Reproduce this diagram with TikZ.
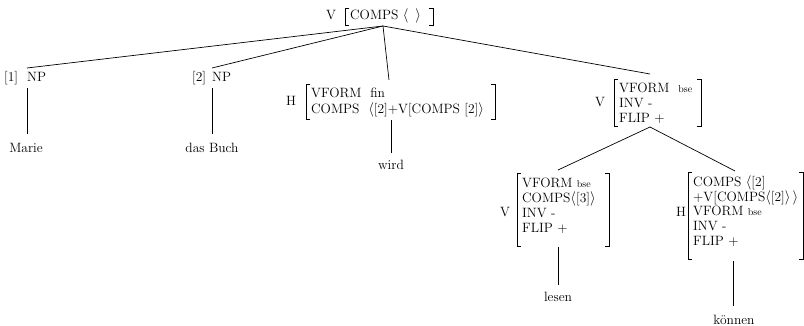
\documentclass[tikz,border=0pt]{standalone}
\begin{document}
\begin{tikzpicture}[x=1pt,y=-1pt,
  txt/.style={inner sep=0pt, anchor=base west, font=\fontsize{13.5}{15}\selectfont},
  leaf/.style={inner sep=0pt, anchor=base, font=\fontsize{13.5}{15}\selectfont},
  edge/.style={line width=0.7pt},
  brk/.style={line width=0.7pt}]
\useasboundingbox (0,0) rectangle (804,326);
\newcommand\sm[1]{{\fontsize{10}{11}\selectfont #1}}
\newcommand\lb[3]{\draw[brk] (#1+4,#2) -| (#1,#3) -- (#1+4,#3);}
\newcommand\rb[3]{\draw[brk] (#1-4,#2) -| (#1,#3) -- (#1-4,#3);}

% root: V [COMPS < > ]
\node[txt] (rootcat) at (326,20) {V};
\lb{345}{8}{25}
\node[txt] (rootavm) at (350,20) {COMPS $\langle\ \,\rangle$};
\rb{433}{8}{25}
\coordinate (root) at (383,26);

% first complement NP
\node[txt] (np1tag) at (4,82) {[1]};
\node[txt] (np1) at (27,82) {NP};
\coordinate (np1top) at (27,68);
\coordinate (np1bot) at (27,88);
\coordinate (marietop) at (27,134);
\node[leaf] (marie) at (26,153) {Marie};

% second complement NP
\node[txt] (np2tag) at (192,82) {[2]};
\node[txt] (np2) at (212,82) {NP};
\coordinate (np2top) at (212,68);
\coordinate (np2bot) at (212,88);
\coordinate (buchtop) at (212,134);
\node[leaf] (buch) at (212,153) {das Buch};

% head: wird
\node[txt] (hcat) at (286,106) {H};
\lb{306}{84}{119}
\node[txt] (h1) at (311,98) {VFORM\ \ fin};
\node[txt] (h2) at (311,114) {COMPS\ \ $\langle$[2]+V[COMPS [2]$\rangle$};
\rb{495}{84}{119}
\coordinate (htop) at (389,80);
\coordinate (hbot) at (391,120);
\coordinate (wirdtop) at (391,153);
\node[leaf] (wird) at (391,170) {wird};

% verbal complex
\node[txt] (vcat) at (595,107) {V};
\lb{614}{79}{126}
\node[txt] (v1) at (619,93) {VFORM\ \ \sm{bse}};
\node[txt] (v2) at (619,108) {INV -};
\node[txt] (v3) at (619,123) {FLIP +};
\rb{701}{79}{126}
\coordinate (vtop) at (650,74);
\coordinate (vbot) at (650,127);

% lesen
\node[txt] (lcat) at (500,217) {V};
\lb{517}{173}{246}
\node[txt] (l1) at (522,188) {VFORM \sm{bse}};
\node[txt] (l2) at (522,203) {COMPS$\langle$[3]$\rangle$};
\node[txt] (l3) at (522,218) {INV -};
\node[txt] (l4) at (522,233) {FLIP +};
\rb{609}{173}{246}
\coordinate (ltop) at (558,170);
\coordinate (lbot) at (558,247);
\coordinate (lesentop) at (558,285);
\node[leaf] (lesen) at (558,301) {lesen};

% koennen
\node[txt] (kcat) at (676,217) {H};
\lb{688}{172}{259}
\node[txt] (k1) at (693,186) {COMPS $\langle$[2]};
\node[txt] (k2) at (693,201) {+V[COMPS$\langle$[2]$\rangle$\,$\rangle$};
\node[txt] (k3) at (693,216) {VFORM \sm{bse}};
\node[txt] (k4) at (693,231) {INV -};
\node[txt] (k5) at (693,246) {FLIP +};
\rb{803}{172}{259}
\coordinate (ktop) at (735,171);
\coordinate (kbot) at (733,261);
\coordinate (koennentop) at (733,306);
\node[leaf] (koennen) at (734,324) {können};

% tree edges
\draw[edge] (root) -- (np1top);
\draw[edge] (root) -- (np2top);
\draw[edge] (root) -- (htop);
\draw[edge] (root) -- (vtop);
\draw[edge] (np1bot) -- (marietop);
\draw[edge] (np2bot) -- (buchtop);
\draw[edge] (hbot) -- (wirdtop);
\draw[edge] (vbot) -- (ltop);
\draw[edge] (vbot) -- (ktop);
\draw[edge] (lbot) -- (lesentop);
\draw[edge] (kbot) -- (koennentop);
\end{tikzpicture}
\end{document}
